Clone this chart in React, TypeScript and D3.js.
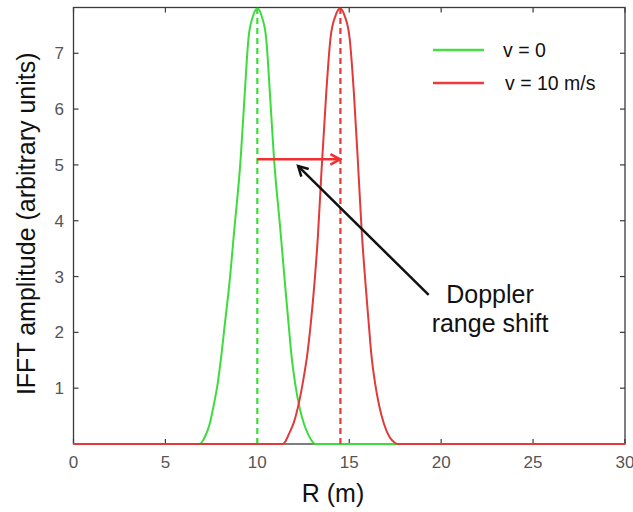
import React from "react";
import * as d3 from "d3";

const W = 633;
const H = 512;

// green curve: v = 0  (R in m, amplitude)
const greenR = [0, 6.85, 7.0, 7.15, 7.4, 7.6, 7.85, 8.05, 8.25, 8.46, 8.75, 9.09, 9.3, 9.52, 9.75, 10.0, 10.25, 10.48, 10.7, 10.91, 11.25, 11.52, 11.7, 11.85, 12.05, 12.3, 12.55, 12.8, 13.0, 13.15, 30];
const greenA = [0, 0, 0.04, 0.13, 0.35, 0.65, 1.1, 1.61, 2.2, 2.81, 3.85, 5.1, 6.2, 7.27, 7.65, 7.8, 7.65, 7.27, 6.2, 5.1, 3.85, 2.81, 2.15, 1.61, 1.1, 0.65, 0.35, 0.15, 0.04, 0, 0];

// red curve: v = 10 m/s
const redR = [0, 11.38, 11.55, 11.72, 12.0, 12.27, 12.5, 12.72, 12.92, 13.1, 13.3, 13.5, 13.75, 13.98, 14.25, 14.5, 14.75, 15.02, 15.25, 15.48, 15.68, 15.9, 16.05, 16.2, 16.4, 16.62, 16.9, 17.2, 17.45, 17.62, 30];
const redA = [0, 0, 0.06, 0.18, 0.4, 0.75, 1.15, 1.61, 2.2, 2.85, 3.75, 4.95, 6.3, 7.27, 7.67, 7.8, 7.67, 7.27, 6.3, 5.0, 3.8, 2.81, 2.2, 1.61, 1.1, 0.7, 0.35, 0.12, 0.03, 0, 0];

const peakGreen = 10;
const peakRed = 14.52;
const peakAmp = 7.82;

const xTicks = [0, 5, 10, 15, 20, 25, 30];
const yTicks = [1, 2, 3, 4, 5, 6, 7];

const legendLabels = ["v = 0", "v = 10 m/s"];
const annotationText = ["Doppler", "range shift"];
// arrows in data coordinates [x1, y1, x2, y2]
const shiftArrow = [10, 5.1, 14.5, 5.1];
const pointerArrow = [19.32, 2.67, 12.22, 4.98];

const GREEN = "#3ddc3d";
const RED = "#e03a3a";
const FONT = "'Liberation Sans', Arial, Helvetica, sans-serif";

export default function App() {
  const left = 73.5, right = 625, top = 7.5, bottom = 444;
  const x = d3.scaleLinear().domain([0, 30]).range([left, right]);
  const y = d3.scaleLinear().domain([0, 7.82]).range([bottom, top]);

  const line = d3
    .line<[number, number]>()
    .x((d) => x(d[0]))
    .y((d) => y(d[1]))
    .curve(d3.curveMonotoneX);

  const gPts = greenR.map((r, i) => [r, greenA[i]] as [number, number]);
  const rPts = redR.map((r, i) => [r, redA[i]] as [number, number]);

  const arrowHead = (x1: number, y1: number, x2: number, y2: number, len = 11, ang = 0.5) => {
    const a = Math.atan2(y2 - y1, x2 - x1);
    const p1 = [x2 - len * Math.cos(a - ang), y2 - len * Math.sin(a - ang)];
    const p2 = [x2 - len * Math.cos(a + ang), y2 - len * Math.sin(a + ang)];
    return `M${p1[0]},${p1[1]}L${x2},${y2}L${p2[0]},${p2[1]}`;
  };

  const sa = [x(shiftArrow[0]), y(shiftArrow[1]), x(shiftArrow[2]), y(shiftArrow[3])];
  const pa = [x(pointerArrow[0]), y(pointerArrow[1]), x(pointerArrow[2]), y(pointerArrow[3])];

  const axisColor = "#3a3a3a";
  const tickColor = "#555";

  return (
    <svg
      width={W}
      height={H}
      style={{ position: "absolute", left: 0, top: 0, background: "#fff" }}
      fontFamily={FONT}
    >
      <rect x={0} y={0} width={W} height={H} fill="#fff" />
      {/* box */}
      <rect x={left} y={top} width={right - left} height={bottom - top} fill="none" stroke={axisColor} strokeWidth={1.3} />
      {/* x ticks */}
      {xTicks.map((t) => (
        <g key={"x" + t}>
          <line x1={x(t)} x2={x(t)} y1={bottom} y2={bottom - 5} stroke={axisColor} strokeWidth={1.2} />
          <line x1={x(t)} x2={x(t)} y1={top} y2={top + 5} stroke={axisColor} strokeWidth={1.2} />
          <text x={x(t)} y={468} textAnchor="middle" fontSize={17} fill={tickColor}>
            {t}
          </text>
        </g>
      ))}
      {/* y ticks */}
      {yTicks.map((t) => (
        <g key={"y" + t}>
          <line x1={left} x2={left + 5} y1={y(t)} y2={y(t)} stroke={axisColor} strokeWidth={1.2} />
          <line x1={right} x2={right - 5} y1={y(t)} y2={y(t)} stroke={axisColor} strokeWidth={1.2} />
          <text x={64} y={y(t) + 6} textAnchor="end" fontSize={17} fill={tickColor}>
            {t}
          </text>
        </g>
      ))}
      {/* axis labels */}
      <text x={333} y={502} textAnchor="middle" fontSize={25} fill="#111">
        R (m)
      </text>
      <text
        transform={`translate(35,${(top + bottom) / 2 - 2}) rotate(-90)`}
        textAnchor="middle"
        fontSize={25}
        fill="#111"
      >
        IFFT amplitude (arbitrary units)
      </text>

      {/* curves */}
      <path d={line(gPts) || ""} fill="none" stroke={GREEN} strokeWidth={2} />
      <line x1={x(peakGreen)} x2={x(peakGreen)} y1={y(0)} y2={y(peakAmp)} stroke={GREEN} strokeWidth={2.2} strokeDasharray="6,4" />
      <path d={line(rPts) || ""} fill="none" stroke={RED} strokeWidth={2} />
      <line x1={x(peakRed)} x2={x(peakRed)} y1={y(0)} y2={y(peakAmp)} stroke={RED} strokeWidth={2.2} strokeDasharray="6,4" />

      {/* shift arrow */}
      <line x1={sa[0]} y1={sa[1]} x2={sa[2]} y2={sa[3]} stroke="#f03030" strokeWidth={2.5} />
      <path d={arrowHead(sa[0], sa[1], sa[2], sa[3])} fill="none" stroke="#f03030" strokeWidth={2.5} />

      {/* pointer arrow */}
      <line x1={pa[0]} y1={pa[1]} x2={pa[2]} y2={pa[3]} stroke="#111" strokeWidth={2.5} />
      <path d={arrowHead(pa[0], pa[1], pa[2], pa[3])} fill="none" stroke="#111" strokeWidth={2.5} />

      {/* annotation text */}
      {annotationText.map((s, i) => (
        <text key={s} x={490} y={303 + i * 29} textAnchor="middle" fontSize={25} fill="#111">
          {s}
        </text>
      ))}

      {/* legend */}
      {legendLabels.map((s, i) => (
        <g key={s}>
          <line x1={433} x2={484} y1={50 + i * 33} y2={50 + i * 33} stroke={i === 0 ? "#44e044" : "#f03a3a"} strokeWidth={2.5} />
          <text x={i === 0 ? 503 : 505} y={57 + i * 33} fontSize={19.5} fill="#111">
            {s}
          </text>
        </g>
      ))}
    </svg>
  );
}
